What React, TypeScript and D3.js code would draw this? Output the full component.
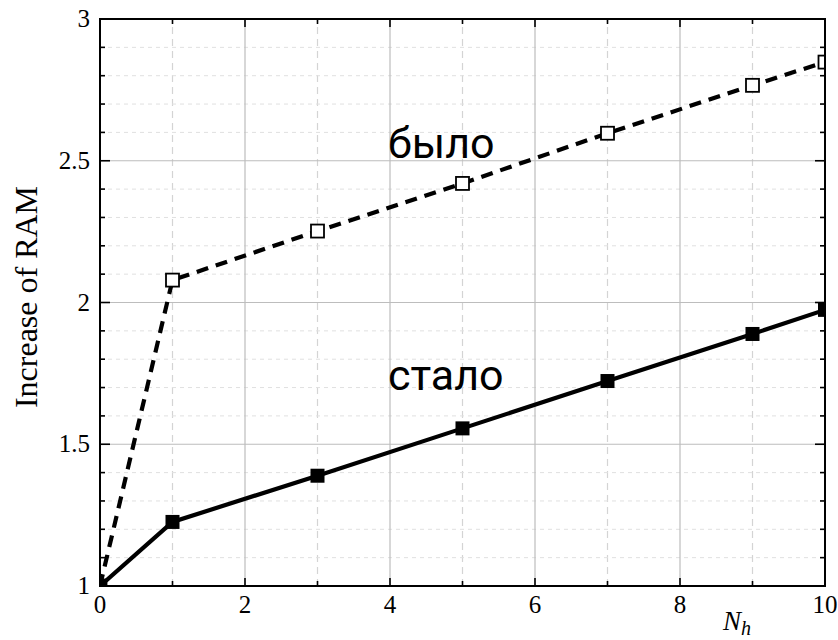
import React, { useEffect, useRef } from 'react';
import * as d3 from 'd3';

// values
const nh = [0, 1, 3, 5, 7, 9, 10];
const before = [1, 2.079, 2.252, 2.42, 2.597, 2.766, 2.848];
const after = [1, 1.226, 1.389, 1.556, 1.723, 1.889, 1.974];
const xTicks = [0, 2, 4, 6, 8, 10];
const yTicks = [1, 1.5, 2, 2.5, 3];
const labelBefore = 'было';
const labelAfter = 'стало';

const App = () => {
  const ref = useRef<SVGSVGElement>(null);

  useEffect(() => {
    const svg = d3.select(ref.current!);
    svg.selectAll('*').remove();

    const x = d3.scaleLinear().domain([0, 10]).range([100, 825]);
    const y = d3.scaleLinear().domain([1, 3]).range([586, 19]);
    const serif = '"Liberation Serif", serif';

    svg.append('defs').append('clipPath').attr('id', 'plot')
      .append('rect')
      .attr('x', x(0)).attr('y', y(3))
      .attr('width', x(10) - x(0)).attr('height', y(1) - y(3));

    const grid = svg.append('g');
    // minor dashed grid
    d3.range(1, 10, 2).forEach(v => {
      grid.append('line')
        .attr('x1', x(v)).attr('x2', x(v)).attr('y1', y(1)).attr('y2', y(3))
        .attr('stroke', '#d4d4d4').attr('stroke-width', 1.2).attr('stroke-dasharray', '7,5');
    });
    d3.range(1.1, 3, 0.1).forEach(v => {
      if (Math.abs(v * 2 - Math.round(v * 2)) < 1e-6) return;
      grid.append('line')
        .attr('x1', x(0)).attr('x2', x(10)).attr('y1', y(v)).attr('y2', y(v))
        .attr('stroke', '#e0e0e0').attr('stroke-width', 1).attr('stroke-dasharray', '4,4');
    });
    // major solid grid
    xTicks.slice(1, -1).forEach(v => {
      grid.append('line')
        .attr('x1', x(v)).attr('x2', x(v)).attr('y1', y(1)).attr('y2', y(3))
        .attr('stroke', '#bdbdbd').attr('stroke-width', 1.2);
    });
    yTicks.slice(1, -1).forEach(v => {
      grid.append('line')
        .attr('x1', x(0)).attr('x2', x(10)).attr('y1', y(v)).attr('y2', y(v))
        .attr('stroke', '#bdbdbd').attr('stroke-width', 1.2);
    });

    // inward ticks on all four sides
    const ticks = svg.append('g').attr('stroke', '#000').attr('stroke-width', 1.6);
    d3.range(0, 11, 1).forEach(v => {
      const len = v % 2 === 0 ? 8 : 5;
      ticks.append('line').attr('x1', x(v)).attr('x2', x(v)).attr('y1', y(1)).attr('y2', y(1) - len);
      ticks.append('line').attr('x1', x(v)).attr('x2', x(v)).attr('y1', y(3)).attr('y2', y(3) + len);
    });
    d3.range(10, 31, 1).forEach(k => {
      const v = k / 10;
      const len = k % 5 === 0 ? 10 : 5;
      ticks.append('line').attr('x1', x(0)).attr('x2', x(0) + len).attr('y1', y(v)).attr('y2', y(v));
      ticks.append('line').attr('x1', x(10)).attr('x2', x(10) - len).attr('y1', y(v)).attr('y2', y(v));
    });

    const line = d3.line<number>().x((_, i) => x(nh[i])).y(d => y(d));
    const plot = svg.append('g').attr('clip-path', 'url(#plot)');

    plot.append('path').datum(before).attr('d', line)
      .attr('fill', 'none').attr('stroke', '#000').attr('stroke-width', 4.2)
      .attr('stroke-dasharray', '12,8');
    plot.append('path').datum(after).attr('d', line)
      .attr('fill', 'none').attr('stroke', '#000').attr('stroke-width', 4.2);

    const s1 = 13;
    plot.selectAll('rect.open').data(before).enter().append('rect')
      .attr('class', 'open')
      .attr('x', (_, i) => x(nh[i]) - s1 / 2).attr('y', d => y(d) - s1 / 2)
      .attr('width', s1).attr('height', s1)
      .attr('fill', '#fff').attr('stroke', '#000').attr('stroke-width', 1.8);
    const s2 = 14;
    plot.selectAll('rect.filled').data(after).enter().append('rect')
      .attr('class', 'filled')
      .attr('x', (_, i) => x(nh[i]) - s2 / 2).attr('y', d => y(d) - s2 / 2)
      .attr('width', s2).attr('height', s2)
      .attr('fill', '#000');

    // frame
    svg.append('rect')
      .attr('x', x(0)).attr('y', y(3))
      .attr('width', x(10) - x(0)).attr('height', y(1) - y(3))
      .attr('fill', 'none').attr('stroke', '#000').attr('stroke-width', 2);

    // tick labels
    svg.append('g').selectAll('text').data(xTicks).enter().append('text')
      .attr('x', d => x(d)).attr('y', 613)
      .attr('text-anchor', 'middle')
      .attr('font-family', serif).attr('font-size', 25)
      .text(d => String(d));
    svg.append('g').selectAll('text').data(yTicks).enter().append('text')
      .attr('x', 90).attr('y', d => y(d) + 8)
      .attr('text-anchor', 'end')
      .attr('font-family', serif).attr('font-size', 25)
      .text(d => String(d));

    svg.append('text')
      .attr('transform', `translate(37,297) rotate(-90)`)
      .attr('text-anchor', 'middle')
      .attr('font-family', serif).attr('font-size', 32)
      .text('Increase of RAM');

    const xl = svg.append('text')
      .attr('x', 723).attr('y', 630)
      .attr('font-family', serif).attr('font-size', 27).attr('font-style', 'italic');
    xl.append('tspan').text('N');
    xl.append('tspan').attr('font-size', 20).attr('dy', 5).text('h');

    const sans = 'Roboto, "Noto Sans", sans-serif';
    svg.append('text')
      .attr('x', 388).attr('y', 158)
      .attr('font-family', sans).attr('font-size', 43)
      .text(labelBefore);
    svg.append('text')
      .attr('x', 388).attr('y', 390)
      .attr('font-family', sans).attr('font-size', 43)
      .text(labelAfter);
  }, []);

  return (
    <svg ref={ref} width={838} height={640}
      style={{ position: 'absolute', left: 0, top: 0, background: '#fff' }} />
  );
};

export default App;
